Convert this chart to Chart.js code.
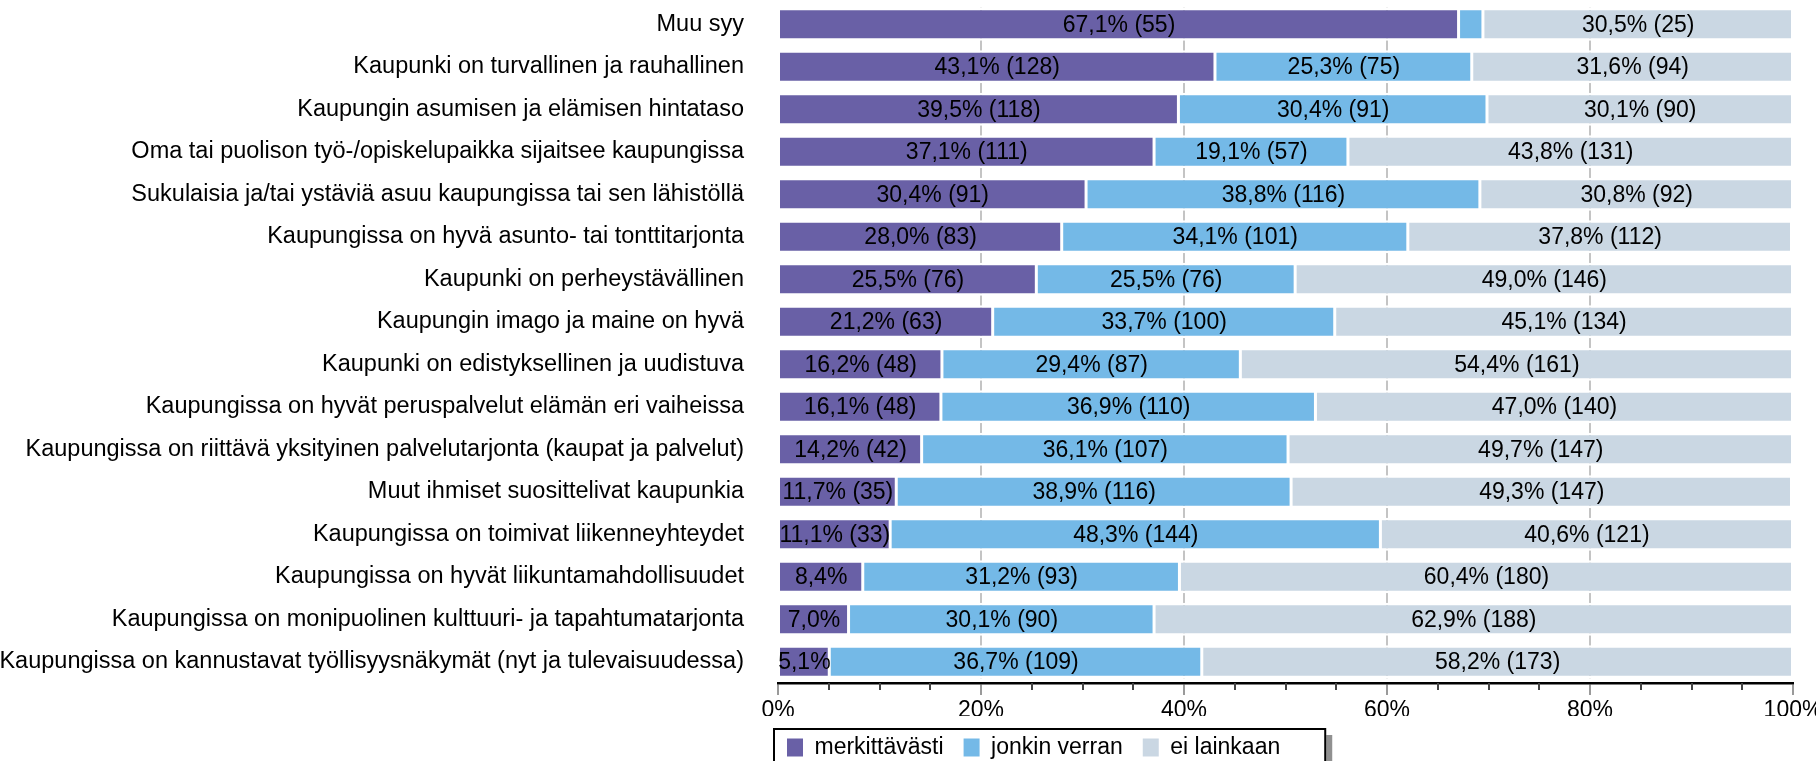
<!DOCTYPE html>
<html>
<head>
<meta charset="utf-8">
<script src="https://cdn.jsdelivr.net/npm/chart.js@4.4.0/dist/chart.umd.min.js"></script>
<style>
  html, body { margin: 0; padding: 0; background: #fff; overflow: hidden; }
  #wrap { position: relative; width: 1816px; height: 769px; }
</style>
</head>
<body>
<div id="wrap"><canvas id="chart"></canvas></div>
<script>
const categories = [
  "Muu syy",
  "Kaupunki on turvallinen ja rauhallinen",
  "Kaupungin asumisen ja elämisen hintataso",
  "Oma tai puolison työ-/opiskelupaikka sijaitsee kaupungissa",
  "Sukulaisia ja/tai ystäviä asuu kaupungissa tai sen lähistöllä",
  "Kaupungissa on hyvä asunto- tai tonttitarjonta",
  "Kaupunki on perheystävällinen",
  "Kaupungin imago ja maine on hyvä",
  "Kaupunki on edistyksellinen ja uudistuva",
  "Kaupungissa on hyvät peruspalvelut elämän eri vaiheissa",
  "Kaupungissa on riittävä yksityinen palvelutarjonta (kaupat ja palvelut)",
  "Muut ihmiset suosittelivat kaupunkia",
  "Kaupungissa on toimivat liikenneyhteydet",
  "Kaupungissa on hyvät liikuntamahdollisuudet",
  "Kaupungissa on monipuolinen kulttuuri- ja tapahtumatarjonta",
  "Kaupungissa on kannustavat työllisyysnäkymät (nyt ja tulevaisuudessa)"
];

const seriesNames = ["merkittävästi", "jonkin verran", "ei lainkaan"];

// percentages
const pctStrong = [67.1, 43.1, 39.5, 37.1, 30.4, 28.0, 25.5, 21.2, 16.2, 16.1, 14.2, 11.7, 11.1, 8.4, 7.0, 5.1];
const pctSome   = [2.4, 25.3, 30.4, 19.1, 38.8, 34.1, 25.5, 33.7, 29.4, 36.9, 36.1, 38.9, 48.3, 31.2, 30.1, 36.7];
const pctNone   = [30.5, 31.6, 30.1, 43.8, 30.8, 37.8, 49.0, 45.1, 54.4, 47.0, 49.7, 49.3, 40.6, 60.4, 62.9, 58.2];

// answer counts
const nStrong = [55, 128, 118, 111, 91, 83, 76, 63, 48, 48, 42, 35, 33, 25, 21, 15];
const nSome   = [2, 75, 91, 57, 116, 101, 76, 100, 87, 110, 107, 116, 144, 93, 90, 109];
const nNone   = [25, 94, 90, 131, 92, 112, 146, 134, 161, 140, 147, 147, 121, 180, 188, 173];

const xTickValues = [0, 20, 40, 60, 80, 100];

const colors = ["#6960a6", "#74b9e7", "#cad7e3"];
const FONT = "'Liberation Sans', Arial, sans-serif";
const BAR = 33;

const pcts = [pctStrong, pctSome, pctNone];
const counts = [nStrong, nSome, nNone];

const fmt = v => v.toFixed(1).replace(".", ",") + "%";

const datasets = seriesNames.map((name, i) => ({
  label: name,
  data: pcts[i],
  backgroundColor: colors[i],
  borderColor: "#ffffff",
  borderWidth: { top: 2.5, bottom: 2.5, left: 1, right: 2 },
  borderSkipped: false,
  inflateAmount: 0,
  barThickness: BAR
}));

// value labels in the middle of each segment
const barLabels = {
  id: "barLabels",
  beforeDatasetsDraw(chart) {
    // grid only shows in the gaps between bars, not above the first / below the last
    const ctx = chart.ctx;
    const a = chart.chartArea;
    const bars = chart.getDatasetMeta(0).data;
    ctx.save();
    ctx.fillStyle = "#fff";
    ctx.fillRect(a.left, a.top - 2, a.width, bars[0].y - BAR / 2 - a.top + 2);
    const lastBottom = bars[bars.length - 1].y + BAR / 2;
    ctx.fillRect(a.left, lastBottom, a.width, a.bottom - lastBottom - 1);
    ctx.restore();
  },
  afterDatasetsDraw(chart) {
    const ctx = chart.ctx;
    ctx.save();
    ctx.font = "23px " + FONT;
    ctx.fillStyle = "#000";
    ctx.textAlign = "center";
    ctx.textBaseline = "middle";
    chart.data.datasets.forEach((ds, di) => {
      chart.getDatasetMeta(di).data.forEach((bar, i) => {
        const p = pcts[di][i];
        let txt = "";
        if (p >= 10) txt = fmt(p) + " (" + counts[di][i] + ")";
        else if (p >= 4) txt = fmt(p);
        if (txt) ctx.fillText(txt, (bar.x + bar.base) / 2, bar.y + 1);
      });
    });
    ctx.restore();
  }
};

// short minor ticks under the axis + framed legend
const axisAndFrame = {
  id: "axisAndFrame",
  afterLayout(chart) {
    chart.legend.left -= 11;
    chart.legend.right -= 11;
  },
  afterDraw(chart) {
    const ctx = chart.ctx;
    const xs = chart.scales.x;
    const bottom = chart.chartArea.bottom;
    ctx.save();
    ctx.strokeStyle = "#444";
    ctx.lineWidth = 2;
    for (let v = 5; v < 100; v += 5) {
      if (v % 20 === 0) continue;
      const x = Math.round(xs.getPixelForValue(v));
      ctx.beginPath();
      ctx.moveTo(x, bottom);
      ctx.lineTo(x, bottom + 7);
      ctx.stroke();
    }
    const lg = chart.legend;
    const hb = lg.legendHitBoxes;
    const last = hb[hb.length - 1];
    const left = hb[0].left - 13;
    const right = last.left + last.width + 45;
    const top = lg.top + 13;
    const h = chart.height - top + 10;
    ctx.fillStyle = "#909090";
    ctx.fillRect(right + 1, top + 6, 6, h);
    ctx.strokeStyle = "#000";
    ctx.lineWidth = 2;
    ctx.strokeRect(left, top, right - left, h);
    ctx.restore();
  }
};

new Chart(document.getElementById("chart"), {
  type: "bar",
  data: { labels: categories, datasets },
  options: {
    indexAxis: "y",
    responsive: true,
    maintainAspectRatio: false,
    animation: false,
    layout: { padding: { top: 3, right: 23, bottom: 0, left: 0 } },
    scales: {
      x: {
        stacked: true,
        min: 0,
        max: 100,
        ticks: {
          stepSize: 5,
          autoSkip: false,
          maxRotation: 0,
          padding: 2,
          color: "#000",
          font: { family: FONT, size: 23 },
          callback: v => (xTickValues.includes(v) ? v + "%" : "")
        },
        grid: {
          color: c => (c.tick && c.tick.value % 20 === 0 && c.tick.value > 0 && c.tick.value < 100) ? "#c4c4c4" : "rgba(0,0,0,0)",
          lineWidth: 2,
          drawTicks: true,
          tickLength: 12,
          tickWidth: 2,
          tickColor: c => (c.tick && c.tick.value % 20 === 0) ? "#9a9a9a" : "rgba(0,0,0,0)"
        },
        border: { display: true, color: "#000", width: 2.5 },
        afterFit: s => { s.height = 33; s.paddingLeft = 0; s.paddingRight = 0; }
      },
      y: {
        stacked: true,
        ticks: { padding: 34, autoSkip: false, color: "#000", font: { family: FONT, size: 23.5 } },
        grid: { display: false, drawTicks: false },
        border: { display: false },
        afterFit: s => { s.width = 778; s.paddingTop = 0; s.paddingBottom = 0; }
      }
    },
    plugins: {
      legend: {
        position: "bottom",
        align: "start",
        fullSize: false,
        labels: {
          boxWidth: 16,
          boxHeight: 18,
          padding: 20,
          color: "#000",
          font: { family: FONT, size: 23 },
          generateLabels: chart => chart.data.datasets.map((ds, i) => ({
            text: ds.label,
            fillStyle: ds.backgroundColor,
            strokeStyle: ds.backgroundColor,
            lineWidth: 0,
            datasetIndex: i
          }))
        }
      },
      tooltip: { enabled: false }
    }
  },
  plugins: [barLabels, axisAndFrame]
});
</script>
</body>
</html>
